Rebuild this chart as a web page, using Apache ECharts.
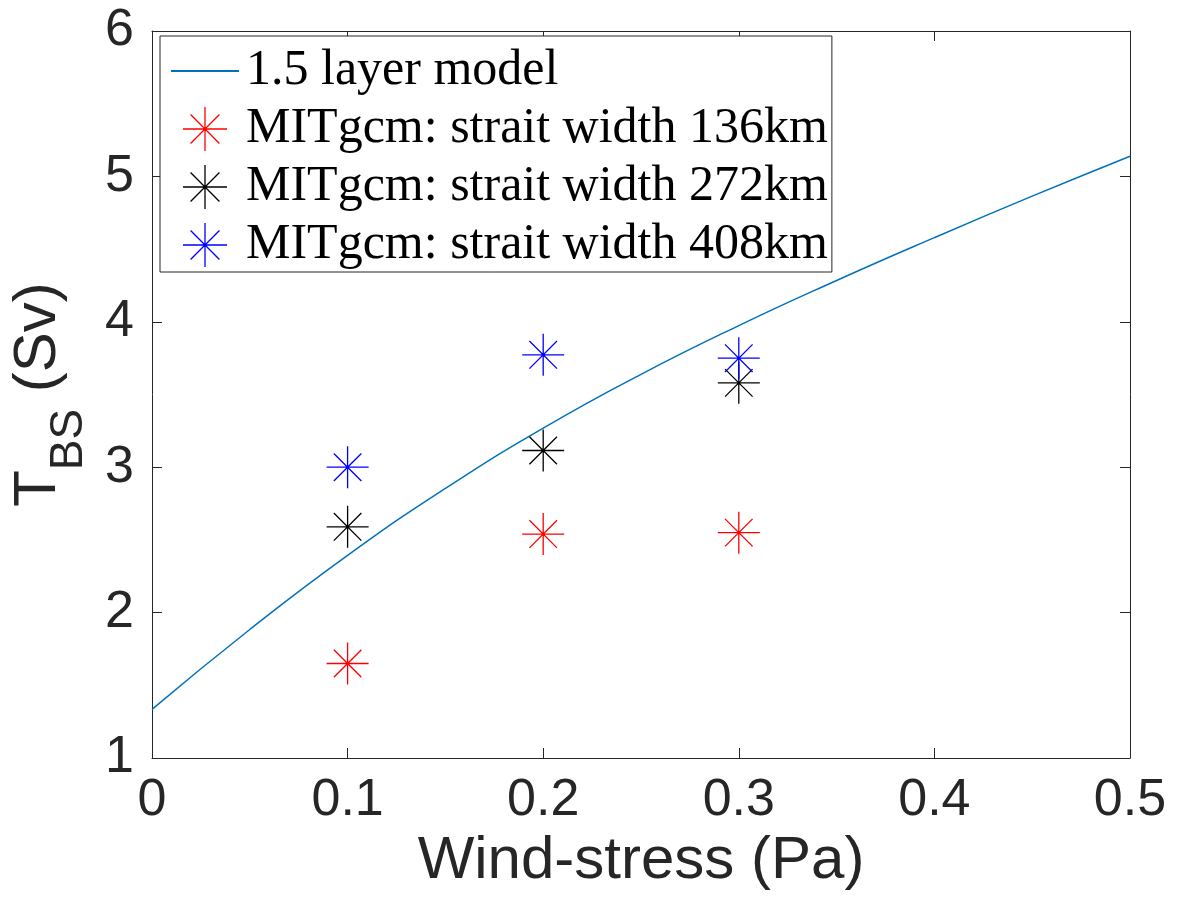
<!DOCTYPE html>
<html>
<head>
<meta charset="utf-8">
<title>T_BS vs wind-stress</title>
<script src="https://cdn.jsdelivr.net/npm/echarts@6/dist/echarts.min.js"></script>
<style>
  html, body { margin: 0; padding: 0; background: #fff; }
  #chart { width: 1178px; height: 905px; }
</style>
</head>
<body>
<div id="chart"></div>
<script>
// 1.5 layer model curve
const modelX = [0, 0.05, 0.1, 0.15, 0.2, 0.25, 0.3, 0.35, 0.4, 0.45, 0.5];
const modelT = [1.334, 1.884, 2.394, 2.854, 3.269, 3.639, 3.974, 4.284, 4.579, 4.864, 5.139];

// MITgcm runs
const windStress = [0.1, 0.2, 0.3];
const width136 = [1.65, 2.54, 2.55];
const width272 = [2.59, 3.115, 3.58];
const width408 = [3.0, 3.773, 3.75];

const xTicks = ['0', '0.1', '0.2', '0.3', '0.4', '0.5'];

const axisColor = '#262626';
const asterisk = 'path://M0,-16L0,16M-16,0L16,0M-10.5,-10.5L10.5,10.5M-10.5,10.5L10.5,-10.5';

const pairs = (xs, ys) => xs.map((x, i) => [x, ys[i]]);

const starSeries = (name, color, values) => ({
  name: name,
  type: 'scatter',
  xAxisIndex: 0,
  yAxisIndex: 0,
  symbol: asterisk,
  symbolSize: 42,
  symbolKeepAspect: true,
  itemStyle: { color: color, borderColor: color, borderWidth: 1.3, opacity: 1 },
  data: pairs(windStress, values),
  z: 3
});

const boxAxis = {
  axisLine: { show: true, onZero: false, lineStyle: { color: axisColor, width: 1 } },
  axisTick: { show: true, inside: true, length: 10, lineStyle: { color: axisColor, width: 1 } },
  splitLine: { show: false }
};

const option = {
  animation: false,
  backgroundColor: '#fff',
  grid: { left: 150, right: 48, top: 31, bottom: 147, containLabel: false },
  legend: {
    orient: 'vertical',
    left: 160,
    top: 36,
    padding: [10, 4, 2, 10],
    itemGap: 8,
    itemWidth: 68,
    itemHeight: 44,
    borderColor: axisColor,
    borderWidth: 1,
    backgroundColor: '#fff',
    itemStyle: { borderWidth: 1.3 },
    textStyle: {
      fontFamily: 'Liberation Serif',
      fontSize: 50,
      lineHeight: 50,
      color: '#000',
      padding: [0, 0, 0, 2]
    },
    data: [
      '1.5 layer model',
      'MITgcm: strait width 136km',
      'MITgcm: strait width 272km',
      'MITgcm: strait width 408km'
    ]
  },
  xAxis: [
    Object.assign({}, boxAxis, {
      type: 'value',
      position: 'bottom',
      min: 0,
      max: 0.5,
      interval: 0.1,
      name: 'Wind-stress (Pa)',
      nameLocation: 'middle',
      nameGap: 64,
      nameTextStyle: { fontFamily: 'Liberation Sans', fontSize: 60, color: axisColor },
      axisLabel: {
        margin: 17,
        fontFamily: 'Liberation Sans',
        fontSize: 52,
        color: axisColor,
        formatter: (v) => xTicks[Math.round(v * 10)]
      }
    }),
    Object.assign({}, boxAxis, {
      type: 'value',
      position: 'top',
      min: 0,
      max: 0.5,
      interval: 0.1,
      axisLabel: { show: false }
    })
  ],
  yAxis: [
    Object.assign({}, boxAxis, {
      type: 'value',
      position: 'left',
      min: 1,
      max: 6,
      interval: 1,
      name: '{t|T}{sub|BS}{t| (Sv)}',
      nameLocation: 'middle',
      nameRotate: 90,
      nameGap: 60,
      nameTextStyle: {
        color: axisColor,
        rich: {
          t: { fontFamily: 'Liberation Sans', fontSize: 60, color: axisColor, lineHeight: 84, verticalAlign: 'top' },
          sub: { fontFamily: 'Liberation Sans', fontSize: 46, color: axisColor, lineHeight: 44, verticalAlign: 'bottom' }
        }
      },
      axisLabel: {
        margin: 18,
        fontFamily: 'Liberation Sans',
        fontSize: 52,
        color: axisColor
      }
    }),
    Object.assign({}, boxAxis, {
      type: 'value',
      position: 'right',
      min: 1,
      max: 6,
      interval: 1,
      axisLabel: { show: false }
    })
  ],
  series: [
    {
      name: '1.5 layer model',
      type: 'line',
      xAxisIndex: 0,
      yAxisIndex: 0,
      symbol: 'none',
      smooth: 0.5,
      lineStyle: { color: '#0072bd', width: 1.5 },
      // transparent item style so the legend shows only the line
      itemStyle: { color: 'rgba(0,0,0,0)', borderColor: 'rgba(0,0,0,0)' },
      data: pairs(modelX, modelT),
      z: 2
    },
    starSeries('MITgcm: strait width 136km', '#ff0000', width136),
    starSeries('MITgcm: strait width 272km', '#000000', width272),
    starSeries('MITgcm: strait width 408km', '#0000ff', width408)
  ]
};

const chart = echarts.init(document.getElementById('chart'));
chart.setOption(option);
</script>
</body>
</html>
